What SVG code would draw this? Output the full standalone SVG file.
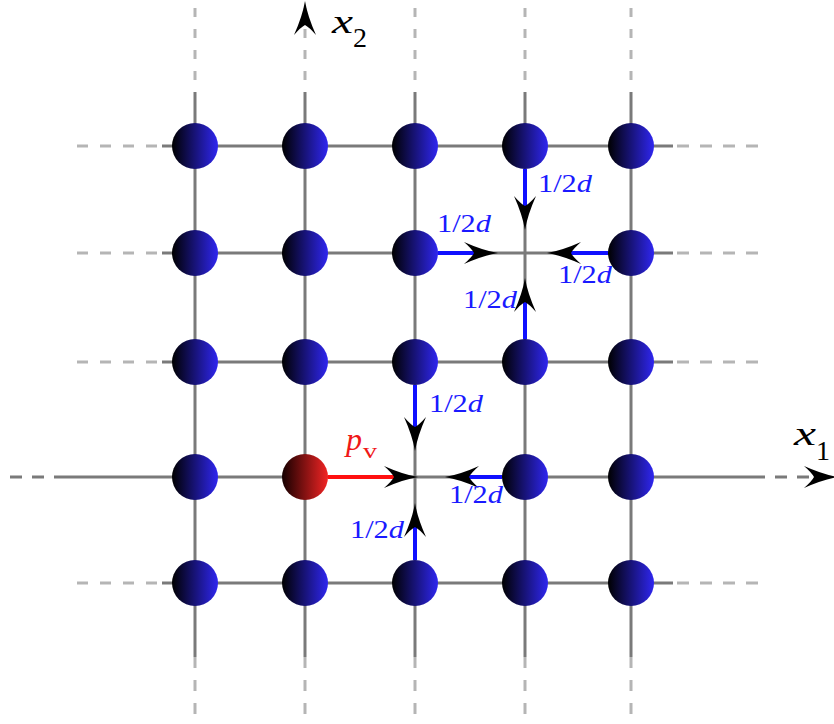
<svg xmlns="http://www.w3.org/2000/svg" xmlns:xlink="http://www.w3.org/1999/xlink" width="834" height="724" viewBox="0 0 834 724">
<style>
.grid{stroke:#7a7a7a;stroke-width:3;fill:none}
.ltv{stroke:#b5b5b5;stroke-width:3;fill:none;stroke-dasharray:9 12}
.ltb{stroke:#b5b5b5;stroke-width:3;fill:none;stroke-dasharray:11 12}
.axd{stroke:#7a7a7a;stroke-width:3;fill:none;stroke-dasharray:12 10}
.bl{stroke:#1010ff;stroke-width:4;fill:none}
.rd{stroke:#ff1010;stroke-width:4;fill:none}
text{font-family:'Liberation Serif','Times New Roman',serif}
.lbl{font-size:25px;fill:#1a1aff}
.it{font-style:italic}
.ax{fill:#000}
.pv{fill:#f01818}
</style>
<defs>
<linearGradient id="gb" x1="0" y1="0" x2="1" y2="0">
<stop offset="0" stop-color="#000000"/>
<stop offset="1" stop-color="#2f26f0"/>
</linearGradient>
<linearGradient id="gr" x1="0" y1="0" x2="1" y2="0">
<stop offset="0" stop-color="#150000"/>
<stop offset="1" stop-color="#f22424"/>
</linearGradient>
<path id="ah" d="M0,0 Q-15,-2.5 -34,-11 Q-26,-4 -24,0 Q-26,4 -34,11 Q-15,2.5 0,0 Z" fill="#000"/>
</defs>

<g id="grid">
<path class="ltb" d="M77,146H162M77,253H162M77,362H162M77,583H162"/>
<path class="ltb" style="stroke-dasharray:12 11" d="M677,146H758M677,253H758M677,362H758M677,583H758"/>
<path class="ltv" d="M195,8V92M305,8V92M415,8V92M525,8V92M631,8V92"/>
<path class="ltb" d="M195,657V718M305,657V718M415,657V718M525,657V718M631,657V718"/>
<path class="grid" d="M162,146H673M162,253H673M162,362H673M162,583H673"/>
<path class="grid" d="M195,92V657M305,92V657M415,92V657M525,92V657M631,92V657"/>
</g>

<g id="axis-x1">
<path class="axd" d="M10,477H66M753,477H810"/>
<path class="grid" d="M66,477H753"/>
<use xlink:href="#ah" transform="translate(838,477)"/>
<text class="ax it" x="794" y="445" font-size="34" textLength="22" lengthAdjust="spacingAndGlyphs">x</text>
<text class="ax" x="816" y="460" font-size="28">1</text>
</g>

<g id="axis-x2">
<use xlink:href="#ah" transform="translate(305,1) rotate(-90)"/>
<text class="ax it" x="332" y="33" font-size="34" textLength="21" lengthAdjust="spacingAndGlyphs">x</text>
<text class="ax" x="353" y="47" font-size="28">2</text>
</g>

<g id="nodes">
<g id="n-1-1"><circle cx="195" cy="146" r="23" fill="url(#gb)"/></g>
<g id="n-2-1"><circle cx="305" cy="146" r="23" fill="url(#gb)"/></g>
<g id="n-3-1"><circle cx="415" cy="146" r="23" fill="url(#gb)"/></g>
<g id="n-4-1"><circle cx="525" cy="146" r="23" fill="url(#gb)"/></g>
<g id="n-5-1"><circle cx="631" cy="146" r="23" fill="url(#gb)"/></g>
<g id="n-1-2"><circle cx="195" cy="253" r="23" fill="url(#gb)"/></g>
<g id="n-2-2"><circle cx="305" cy="253" r="23" fill="url(#gb)"/></g>
<g id="n-3-2"><circle cx="415" cy="253" r="23" fill="url(#gb)"/></g>
<g id="n-5-2"><circle cx="631" cy="253" r="23" fill="url(#gb)"/></g>
<g id="n-1-3"><circle cx="195" cy="362" r="23" fill="url(#gb)"/></g>
<g id="n-2-3"><circle cx="305" cy="362" r="23" fill="url(#gb)"/></g>
<g id="n-3-3"><circle cx="415" cy="362" r="23" fill="url(#gb)"/></g>
<g id="n-4-3"><circle cx="525" cy="362" r="23" fill="url(#gb)"/></g>
<g id="n-5-3"><circle cx="631" cy="362" r="23" fill="url(#gb)"/></g>
<g id="n-1-4"><circle cx="195" cy="477" r="23" fill="url(#gb)"/></g>
<g id="n-2-4"><circle cx="305" cy="477" r="23" fill="url(#gr)"/></g>
<g id="n-4-4"><circle cx="525" cy="477" r="23" fill="url(#gb)"/></g>
<g id="n-5-4"><circle cx="631" cy="477" r="23" fill="url(#gb)"/></g>
<g id="n-1-5"><circle cx="195" cy="583" r="23" fill="url(#gb)"/></g>
<g id="n-2-5"><circle cx="305" cy="583" r="23" fill="url(#gb)"/></g>
<g id="n-3-5"><circle cx="415" cy="583" r="23" fill="url(#gb)"/></g>
<g id="n-4-5"><circle cx="525" cy="583" r="23" fill="url(#gb)"/></g>
<g id="n-5-5"><circle cx="631" cy="583" r="23" fill="url(#gb)"/></g>
</g>

<g id="connectors">
<path class="bl" d="M525,169V212"/>
<use xlink:href="#ah" transform="translate(525,230) rotate(90)"/>
<path class="bl" d="M438,253H480"/>
<use xlink:href="#ah" transform="translate(498,253)"/>
<path class="bl" d="M608,253H565"/>
<use xlink:href="#ah" transform="translate(547,253) rotate(180)"/>
<path class="bl" d="M525,339V296"/>
<use xlink:href="#ah" transform="translate(525,278) rotate(-90)"/>
<path class="rd" d="M328,477H400"/>
<use xlink:href="#ah" transform="translate(418,477)"/>
<path class="bl" d="M415,385V433"/>
<use xlink:href="#ah" transform="translate(415,451) rotate(90)"/>
<path class="bl" d="M502,477H463"/>
<use xlink:href="#ah" transform="translate(445,477) rotate(180)"/>
<path class="bl" d="M415,560V521"/>
<use xlink:href="#ah" transform="translate(415,503) rotate(-90)"/>
</g>

<g id="labels">
<text class="lbl" x="538" y="192" textLength="54" lengthAdjust="spacingAndGlyphs">1/2<tspan class="it">d</tspan></text>
<text class="lbl" x="437" y="232" textLength="54" lengthAdjust="spacingAndGlyphs">1/2<tspan class="it">d</tspan></text>
<text class="lbl" x="558" y="283" textLength="54" lengthAdjust="spacingAndGlyphs">1/2<tspan class="it">d</tspan></text>
<text class="lbl" x="463" y="308" textLength="54" lengthAdjust="spacingAndGlyphs">1/2<tspan class="it">d</tspan></text>
<text class="lbl" x="429" y="412" textLength="54" lengthAdjust="spacingAndGlyphs">1/2<tspan class="it">d</tspan></text>
<text class="lbl" x="449" y="503" textLength="54" lengthAdjust="spacingAndGlyphs">1/2<tspan class="it">d</tspan></text>
<text class="lbl" x="350" y="538" textLength="54" lengthAdjust="spacingAndGlyphs">1/2<tspan class="it">d</tspan></text>
<text class="pv it" x="346" y="450" font-size="32">p</text>
<text class="pv" x="363" y="458" font-size="22" textLength="14" lengthAdjust="spacingAndGlyphs">v</text>
</g>
</svg>
